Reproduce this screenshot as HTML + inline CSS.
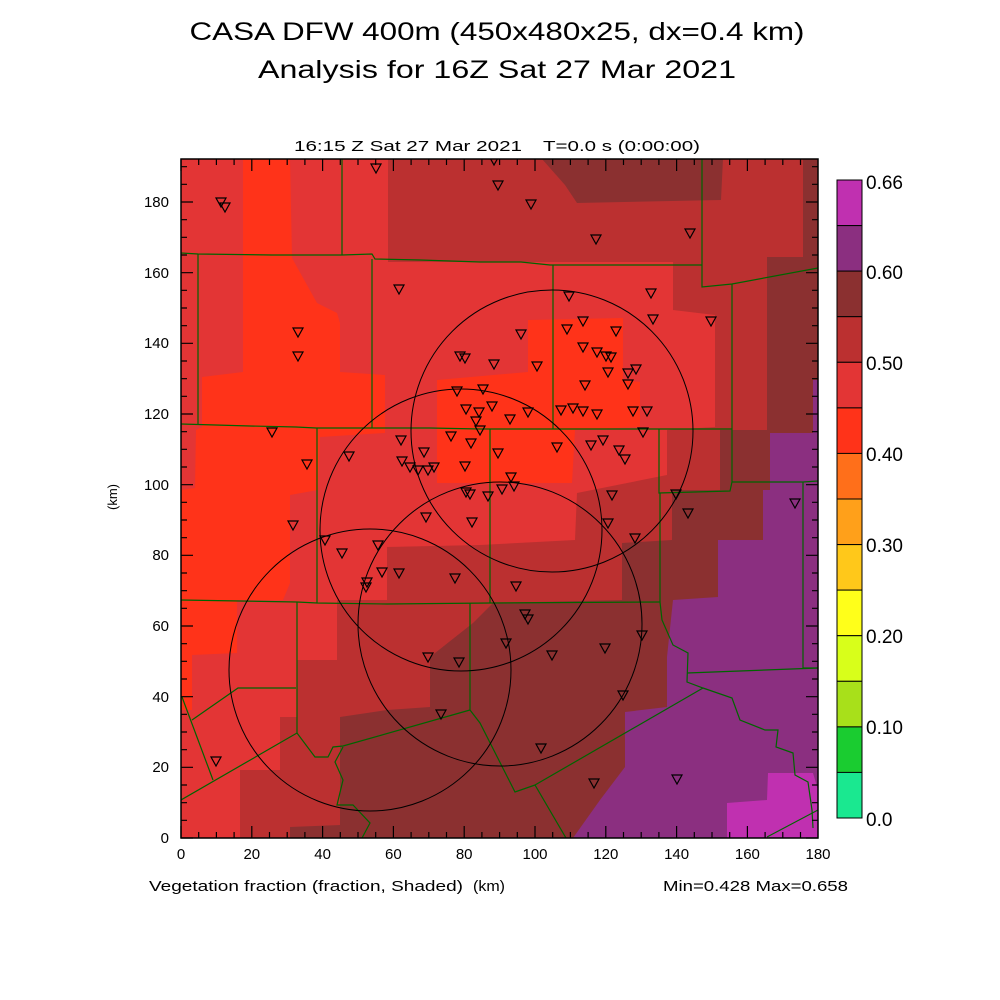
<!DOCTYPE html>
<html><head><meta charset="utf-8"><style>html,body{margin:0;padding:0;background:#fff}svg{display:block}</style></head>
<body>
<svg width="1000" height="1000" viewBox="0 0 1000 1000" xmlns="http://www.w3.org/2000/svg" xmlns:xlink="http://www.w3.org/1999/xlink" font-family="Liberation Sans, sans-serif">
<defs><path id="tr" d="M-5,-4 L5,-4 L0,5 Z" fill="none" stroke="#000" stroke-width="1.2"/></defs>
<rect width="1000" height="1000" fill="#fff"/>
<text x="497" y="40" font-size="25" text-anchor="middle" textLength="615" lengthAdjust="spacingAndGlyphs">CASA DFW 400m (450x480x25, dx=0.4 km)</text>
<text x="497" y="78" font-size="25" text-anchor="middle" textLength="478" lengthAdjust="spacingAndGlyphs">Analysis for 16Z Sat 27 Mar 2021</text>
<text x="294" y="151" font-size="15" textLength="228" lengthAdjust="spacingAndGlyphs">16:15 Z Sat 27 Mar 2021</text>
<text x="543" y="151" font-size="15" textLength="157" lengthAdjust="spacingAndGlyphs">T=0.0 s (0:00:00)</text>
<svg x="181" y="159" width="637" height="679" viewBox="181 159 637 679" overflow="hidden">
<rect x="181" y="159" width="637" height="679" fill="#bb3030"/>
<polygon fill="#e33535" points="181,159 388,159 388,262 673,262 673,310 715,315 715,427 667,430 667,475 577,493 575,540 480,545 387,547 387,600 337,600 337,660 297,660 297,717 280,717 280,770 240,770 240,838 181,838"/>
<polygon fill="#ff3319" points="243,159 290,159 292,258 317,303 337,313 340,323 340,372 385,375 385,433 320,437 318,490 290,495 290,583 283,600 237,600 237,653 192,655 192,710 181,710 181,490 195,488 196,430 202,427 202,377 243,372"/>
<polygon fill="#ff3319" points="437,380 528,372 528,320 623,318 623,380 640,382 640,427 575,430 572,483 437,483"/>
<polygon fill="#8b3030" points="542,159 723,159 721,200 577,203 565,185"/>
<polygon fill="#8b3030" points="803,159 818,159 818,838 290,838 290,827 340,825 340,717 387,710 430,707 430,657 473,623 493,603 622,600 622,543 672,540 672,490 720,490 720,430 767,430 767,257 803,257"/>
<polygon fill="#8b2f80" points="770,433 813,433 813,380 818,380 818,838 573,838 600,800 625,767 625,712 667,707 667,657 673,600 718,597 718,540 763,540 763,490 770,490"/>
<polygon fill="#c030b0" points="727,838 727,803 767,800 768,773 813,773 818,790 818,838"/>
<g fill="none" stroke="#006400" stroke-width="1.2">
<polyline points="342,159 342,255"/>
<polyline points="181,253 198,254 272,255 342,255 372,254 375,259 420,260 480,262 521,262 550,265 702,265"/>
<polyline points="198,254 198,424"/>
<polyline points="372,259 372,428"/>
<polyline points="181,424 250,426 296,427 316,428 372,428 430,428 480,429 732,429"/>
<polyline points="317,428 317,603"/>
<polyline points="553,265 553,429"/>
<polyline points="490,429 490,603"/>
<polyline points="702,159 702,287 732,284 818,268"/>
<polyline points="732,284 732,482 803,482 818,481"/>
<polyline points="803,482 803,668 818,668"/>
<polyline points="659,429 659,493 730,491 732,482"/>
<polyline points="660,493 660,602"/>
<polyline points="181,600 240,601 297,602 317,603 387,604 490,603 660,602"/>
<polyline points="297,602 297,733"/>
<polyline points="182,697 213,780"/>
<polyline points="192,720 238,688 296,688"/>
<polyline points="181,800 297,733 315,757 328,757 333,747 343,746 470,710"/>
<polyline points="470,603 470,710 480,723 515,792 535,785 566,838"/>
<polyline points="535,785 703,688"/>
<polyline points="660,602 662,620 673,645 688,653 687,682 703,688 732,698 740,720 765,730 778,730 776,747 793,753 795,775 808,782 812,810 813,828"/>
<polyline points="687,673 818,668"/>
<polyline points="767,837 818,810"/>
<polyline points="343,747 335,762 343,780 337,805 353,805 370,823 362,838"/>
</g>
<g fill="none" stroke="#000" stroke-width="1">
<circle cx="370" cy="670" r="141"/>
<circle cx="461" cy="530" r="141"/>
<circle cx="552" cy="431" r="141"/>
<circle cx="500" cy="624" r="142"/>
</g>
<use xlink:href="#tr" x="221" y="202"/><use xlink:href="#tr" x="225" y="207"/><use xlink:href="#tr" x="376" y="168"/><use xlink:href="#tr" x="494" y="160"/><use xlink:href="#tr" x="498" y="185"/><use xlink:href="#tr" x="531" y="204"/><use xlink:href="#tr" x="596" y="239"/><use xlink:href="#tr" x="690" y="233"/><use xlink:href="#tr" x="399" y="289"/><use xlink:href="#tr" x="298" y="332"/><use xlink:href="#tr" x="298" y="356"/><use xlink:href="#tr" x="569" y="296"/><use xlink:href="#tr" x="651" y="293"/><use xlink:href="#tr" x="653" y="319"/><use xlink:href="#tr" x="711" y="321"/><use xlink:href="#tr" x="521" y="334"/><use xlink:href="#tr" x="567" y="329"/><use xlink:href="#tr" x="583" y="321"/><use xlink:href="#tr" x="537" y="366"/><use xlink:href="#tr" x="616" y="331"/><use xlink:href="#tr" x="583" y="347"/><use xlink:href="#tr" x="597" y="352"/><use xlink:href="#tr" x="606" y="356"/><use xlink:href="#tr" x="611" y="357"/><use xlink:href="#tr" x="608" y="372"/><use xlink:href="#tr" x="628" y="373"/><use xlink:href="#tr" x="636" y="369"/><use xlink:href="#tr" x="494" y="364"/><use xlink:href="#tr" x="460" y="356"/><use xlink:href="#tr" x="465" y="358"/><use xlink:href="#tr" x="457" y="391"/><use xlink:href="#tr" x="483" y="389"/><use xlink:href="#tr" x="585" y="385"/><use xlink:href="#tr" x="628" y="384"/><use xlink:href="#tr" x="561" y="410"/><use xlink:href="#tr" x="573" y="408"/><use xlink:href="#tr" x="583" y="411"/><use xlink:href="#tr" x="597" y="414"/><use xlink:href="#tr" x="633" y="411"/><use xlink:href="#tr" x="647" y="411"/><use xlink:href="#tr" x="528" y="412"/><use xlink:href="#tr" x="479" y="412"/><use xlink:href="#tr" x="466" y="409"/><use xlink:href="#tr" x="492" y="406"/><use xlink:href="#tr" x="476" y="421"/><use xlink:href="#tr" x="510" y="419"/><use xlink:href="#tr" x="557" y="447"/><use xlink:href="#tr" x="591" y="445"/><use xlink:href="#tr" x="603" y="440"/><use xlink:href="#tr" x="619" y="450"/><use xlink:href="#tr" x="625" y="459"/><use xlink:href="#tr" x="643" y="432"/><use xlink:href="#tr" x="272" y="432"/><use xlink:href="#tr" x="401" y="440"/><use xlink:href="#tr" x="451" y="436"/><use xlink:href="#tr" x="471" y="443"/><use xlink:href="#tr" x="480" y="430"/><use xlink:href="#tr" x="498" y="453"/><use xlink:href="#tr" x="307" y="464"/><use xlink:href="#tr" x="349" y="456"/><use xlink:href="#tr" x="424" y="452"/><use xlink:href="#tr" x="402" y="461"/><use xlink:href="#tr" x="410" y="467"/><use xlink:href="#tr" x="418" y="470"/><use xlink:href="#tr" x="428" y="470"/><use xlink:href="#tr" x="434" y="467"/><use xlink:href="#tr" x="465" y="466"/><use xlink:href="#tr" x="511" y="477"/><use xlink:href="#tr" x="514" y="486"/><use xlink:href="#tr" x="612" y="495"/><use xlink:href="#tr" x="676" y="494"/><use xlink:href="#tr" x="688" y="513"/><use xlink:href="#tr" x="466" y="492"/><use xlink:href="#tr" x="470" y="494"/><use xlink:href="#tr" x="502" y="489"/><use xlink:href="#tr" x="488" y="496"/><use xlink:href="#tr" x="426" y="517"/><use xlink:href="#tr" x="472" y="522"/><use xlink:href="#tr" x="608" y="523"/><use xlink:href="#tr" x="635" y="538"/><use xlink:href="#tr" x="293" y="525"/><use xlink:href="#tr" x="325" y="540"/><use xlink:href="#tr" x="342" y="553"/><use xlink:href="#tr" x="378" y="545"/><use xlink:href="#tr" x="382" y="572"/><use xlink:href="#tr" x="399" y="573"/><use xlink:href="#tr" x="367" y="582"/><use xlink:href="#tr" x="366" y="587"/><use xlink:href="#tr" x="455" y="578"/><use xlink:href="#tr" x="516" y="586"/><use xlink:href="#tr" x="525" y="614"/><use xlink:href="#tr" x="528" y="619"/><use xlink:href="#tr" x="642" y="635"/><use xlink:href="#tr" x="506" y="643"/><use xlink:href="#tr" x="428" y="657"/><use xlink:href="#tr" x="459" y="662"/><use xlink:href="#tr" x="552" y="655"/><use xlink:href="#tr" x="605" y="648"/><use xlink:href="#tr" x="623" y="695"/><use xlink:href="#tr" x="441" y="714"/><use xlink:href="#tr" x="541" y="748"/><use xlink:href="#tr" x="594" y="783"/><use xlink:href="#tr" x="677" y="779"/><use xlink:href="#tr" x="795" y="503"/><use xlink:href="#tr" x="216" y="761"/>
</svg>
<rect x="181" y="159" width="637" height="679" fill="none" stroke="#000" stroke-width="1.5"/>
<path stroke="#000" stroke-width="1.2" fill="none" d="
M181,838v-12 M198.7,838v-6 M216.4,838v-6 M234.1,838v-6 M251.8,838v-12 M269.5,838v-6 M287.2,838v-6 M304.9,838v-6 M322.6,838v-12 M340.3,838v-6 M358,838v-6 M375.7,838v-6 M393.4,838v-12 M411.1,838v-6 M428.8,838v-6 M446.5,838v-6 M464.2,838v-12 M481.9,838v-6 M499.6,838v-6 M517.3,838v-6 M535,838v-12 M552.7,838v-6 M570.4,838v-6 M588.1,838v-6 M605.8,838v-12 M623.5,838v-6 M641.2,838v-6 M658.9,838v-6 M676.6,838v-12 M694.3,838v-6 M712,838v-6 M729.7,838v-6 M747.4,838v-12 M765.1,838v-6 M782.8,838v-6 M800.5,838v-6
M181,159v12 M198.7,159v6 M216.4,159v6 M234.1,159v6 M251.8,159v12 M269.5,159v6 M287.2,159v6 M304.9,159v6 M322.6,159v12 M340.3,159v6 M358,159v6 M375.7,159v6 M393.4,159v12 M411.1,159v6 M428.8,159v6 M446.5,159v6 M464.2,159v12 M481.9,159v6 M499.6,159v6 M517.3,159v6 M535,159v12 M552.7,159v6 M570.4,159v6 M588.1,159v6 M605.8,159v12 M623.5,159v6 M641.2,159v6 M658.9,159v6 M676.6,159v12 M694.3,159v6 M712,159v6 M729.7,159v6 M747.4,159v12 M765.1,159v6 M782.8,159v6 M800.5,159v6
M181,838h12 M181,820.3h6 M181,802.7h6 M181,785h6 M181,767.3h12 M181,749.7h6 M181,732h6 M181,714.3h6 M181,696.7h12 M181,679h6 M181,661.3h6 M181,643.7h6 M181,626h12 M181,608.3h6 M181,590.7h6 M181,573h6 M181,555.3h12 M181,537.7h6 M181,520h6 M181,502.3h6 M181,484.7h12 M181,467h6 M181,449.3h6 M181,431.7h6 M181,414h12 M181,396.3h6 M181,378.7h6 M181,361h6 M181,343.3h12 M181,325.7h6 M181,308h6 M181,290.3h6 M181,272.7h12 M181,255h6 M181,237.3h6 M181,219.7h6 M181,202h12 M181,184.3h6 M181,166.7h6
M818,838h-12 M818,820.3h-6 M818,802.7h-6 M818,785h-6 M818,767.3h-12 M818,749.7h-6 M818,732h-6 M818,714.3h-6 M818,696.7h-12 M818,679h-6 M818,661.3h-6 M818,643.7h-6 M818,626h-12 M818,608.3h-6 M818,590.7h-6 M818,573h-6 M818,555.3h-12 M818,537.7h-6 M818,520h-6 M818,502.3h-6 M818,484.7h-12 M818,467h-6 M818,449.3h-6 M818,431.7h-6 M818,414h-12 M818,396.3h-6 M818,378.7h-6 M818,361h-6 M818,343.3h-12 M818,325.7h-6 M818,308h-6 M818,290.3h-6 M818,272.7h-12 M818,255h-6 M818,237.3h-6 M818,219.7h-6 M818,202h-12 M818,184.3h-6 M818,166.7h-6"/>
<g font-size="15" text-anchor="middle">
<text x="181" y="859">0</text><text x="251.8" y="859">20</text><text x="322.6" y="859">40</text><text x="393.4" y="859">60</text><text x="464.2" y="859">80</text><text x="535" y="859">100</text><text x="605.8" y="859">120</text><text x="676.6" y="859">140</text><text x="747.4" y="859">160</text><text x="818" y="859">180</text>
</g>
<g font-size="15" text-anchor="end">
<text x="169" y="843">0</text><text x="169" y="772">20</text><text x="169" y="702">40</text><text x="169" y="631">60</text><text x="169" y="560">80</text><text x="169" y="490">100</text><text x="169" y="419">120</text><text x="169" y="348">140</text><text x="169" y="278">160</text><text x="169" y="207">180</text>
</g>
<text x="117" y="497" font-size="13" text-anchor="middle" transform="rotate(-90 117 497)">(km)</text>
<text x="149" y="891" font-size="15" textLength="314" lengthAdjust="spacingAndGlyphs">Vegetation fraction (fraction, Shaded)</text>
<text x="473" y="891" font-size="15" textLength="32" lengthAdjust="spacingAndGlyphs">(km)</text>
<text x="663" y="891" font-size="15" textLength="185" lengthAdjust="spacingAndGlyphs">Min=0.428 Max=0.658</text>
<g stroke="#000" stroke-width="1">
<rect x="837" y="180" width="25" height="45.6" fill="#c030b0"/>
<rect x="837" y="225.6" width="25" height="45.6" fill="#8b2f80"/>
<rect x="837" y="271.1" width="25" height="45.6" fill="#8b3030"/>
<rect x="837" y="316.7" width="25" height="45.6" fill="#bb3030"/>
<rect x="837" y="362.3" width="25" height="45.6" fill="#e33535"/>
<rect x="837" y="407.9" width="25" height="45.6" fill="#ff3319"/>
<rect x="837" y="453.4" width="25" height="45.6" fill="#ff6f1a"/>
<rect x="837" y="499" width="25" height="45.6" fill="#ffa01a"/>
<rect x="837" y="544.6" width="25" height="45.6" fill="#ffc81a"/>
<rect x="837" y="590.1" width="25" height="45.6" fill="#ffff1a"/>
<rect x="837" y="635.7" width="25" height="45.6" fill="#d8ff1a"/>
<rect x="837" y="681.3" width="25" height="45.6" fill="#a8e01a"/>
<rect x="837" y="726.9" width="25" height="45.6" fill="#1acc30"/>
<rect x="837" y="772.4" width="25" height="45.6" fill="#1ae890"/>
</g>
<g font-size="19">
<text x="866" y="189">0.66</text><text x="866" y="279">0.60</text><text x="866" y="370">0.50</text><text x="866" y="461">0.40</text><text x="866" y="552">0.30</text><text x="866" y="643">0.20</text><text x="866" y="734">0.10</text><text x="866" y="826">0.0</text>
</g>
</svg>
</body></html>
